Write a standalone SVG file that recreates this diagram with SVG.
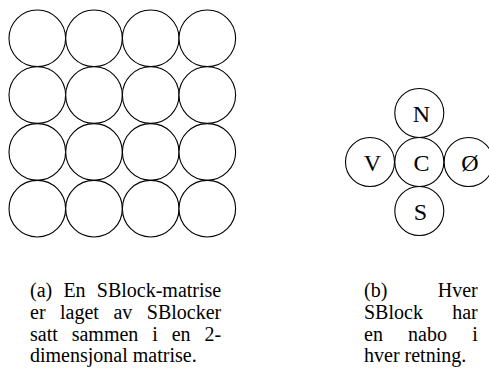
<svg xmlns="http://www.w3.org/2000/svg" width="489" height="376" viewBox="0 0 489 376">
<style>
.c{fill:#fff;stroke:#000;stroke-width:1.1}
.l{font-family:"Liberation Serif","Times New Roman",serif;font-size:24px;fill:#000;text-anchor:middle}
.t{font-family:"Liberation Serif","Times New Roman",serif;font-size:20px;fill:#000}
</style>
<rect width="489" height="376" fill="#fff"/>
<g id="matrix">
<g id="m11"><circle class="c" cx="37.3" cy="38.3" r="28.3"/></g>
<g id="m12"><circle class="c" cx="94" cy="38.3" r="28.3"/></g>
<g id="m13"><circle class="c" cx="150.7" cy="38.3" r="28.3"/></g>
<g id="m14"><circle class="c" cx="207.3" cy="38.3" r="28.3"/></g>
<g id="m21"><circle class="c" cx="37.3" cy="95.1" r="28.3"/></g>
<g id="m22"><circle class="c" cx="94" cy="95.1" r="28.3"/></g>
<g id="m23"><circle class="c" cx="150.7" cy="95.1" r="28.3"/></g>
<g id="m24"><circle class="c" cx="207.3" cy="95.1" r="28.3"/></g>
<g id="m31"><circle class="c" cx="37.3" cy="151.9" r="28.3"/></g>
<g id="m32"><circle class="c" cx="94" cy="151.9" r="28.3"/></g>
<g id="m33"><circle class="c" cx="150.7" cy="151.9" r="28.3"/></g>
<g id="m34"><circle class="c" cx="207.3" cy="151.9" r="28.3"/></g>
<g id="m41"><circle class="c" cx="37.3" cy="208.7" r="28.3"/></g>
<g id="m42"><circle class="c" cx="94" cy="208.7" r="28.3"/></g>
<g id="m43"><circle class="c" cx="150.7" cy="208.7" r="28.3"/></g>
<g id="m44"><circle class="c" cx="207.3" cy="208.7" r="28.3"/></g>
</g>
<g id="neighbours">
<g id="node-N"><circle class="c" cx="419.3" cy="113" r="24.5"/><text class="l" x="421.5" y="122">N</text></g>
<g id="node-V"><circle class="c" cx="370" cy="162" r="24.5"/><text class="l" x="372.5" y="171">V</text></g>
<g id="node-O"><circle class="c" cx="468.6" cy="162" r="24.5"/><text class="l" x="470" y="171">Ø</text></g>
<g id="node-C"><circle class="c" cx="419.3" cy="162" r="24.5"/><text class="l" x="421.5" y="171">C</text></g>
<g id="node-S"><circle class="c" cx="419.3" cy="211" r="24.5"/><text class="l" x="420.5" y="220">S</text></g>
</g>
<g id="connectors"/>
<g id="caption-a">
<text class="t" x="30" y="297.3" word-spacing="6.2">(a) En SBlock-matrise</text>
<text class="t" x="30" y="319" word-spacing="9.5">er laget av SBlocker</text>
<text class="t" x="30" y="340.7" word-spacing="8.9">satt sammen i en 2-</text>
<text class="t" x="30" y="362.3">dimensjonal matrise.</text>
</g>
<g id="caption-b">
<text class="t" x="364" y="297.3" word-spacing="45.4">(b) Hver</text>
<text class="t" x="364" y="319" word-spacing="24.3">SBlock har</text>
<text class="t" x="364" y="340.7" word-spacing="20.2">en nabo i</text>
<text class="t" x="364" y="362.3">hver retning.</text>
</g>
</svg>
